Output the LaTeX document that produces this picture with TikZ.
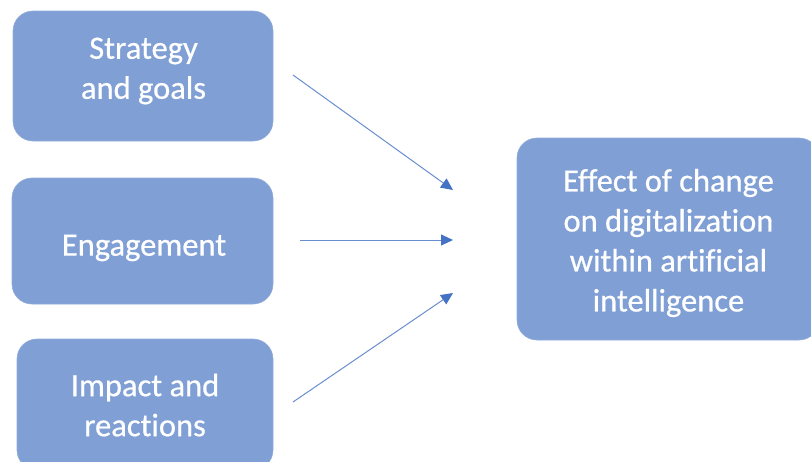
\documentclass[tikz,border=0pt]{standalone}
\usepackage{fontspec}
\setmainfont[Ligatures=NoCommon,FakeBold=0.6]{Carlito}
\usetikzlibrary{arrows.meta}
\definecolor{boxfill}{RGB}{127,159,213}
\definecolor{arrowblue}{RGB}{68,114,196}
\begin{document}
\begin{tikzpicture}[x=1pt,y=-1pt,
  box/.style={draw=boxfill!85!white, line width=0.6pt, fill=boxfill, rounded corners=20pt,
    inner sep=0pt},
  label text/.style={text=white, align=center, inner sep=0pt,
    font=\fontsize{32.5}{40}\selectfont},
  conn/.style={draw=arrowblue!80!white, line width=1pt,
    -{Triangle[length=12pt,width=11pt,color=arrowblue]}}]
\useasboundingbox (0,0) rectangle (811,461);
\fill[white] (0,0) rectangle (811,461);
\clip (0,0) rectangle (811,461);
\node[box, minimum width=260pt, minimum height=130pt] (s) at (143,76) {};
\node[box, minimum width=261pt, minimum height=126pt] (e) at (142.5,241) {};
\node[box, minimum width=256pt, minimum height=131pt] (i) at (145,404.5) {};
\node[box, minimum width=302pt, minimum height=202pt] (t) at (668,239) {};
\node[label text] (st) at (143.5,71) {Strategy\\and goals};
\node[label text] (et) at (144,248) {Engagement};
\node[label text] (it) at (145,405) {Impact and\\reactions};
\node[label text] (tt) at (668.5,243) {Effect of change\\on digitalization\\within artificial\\intelligence};
\coordinate (a1s) at (293,75);
\coordinate (a1e) at (453,190);
\coordinate (a2s) at (300,240);
\coordinate (a2e) at (453,240);
\coordinate (a3s) at (293,402);
\coordinate (a3e) at (453,293);
\draw[conn] (a1s) -- (a1e);
\draw[conn] (a2s) -- (a2e);
\draw[conn] (a3s) -- (a3e);
\end{tikzpicture}
\end{document}
